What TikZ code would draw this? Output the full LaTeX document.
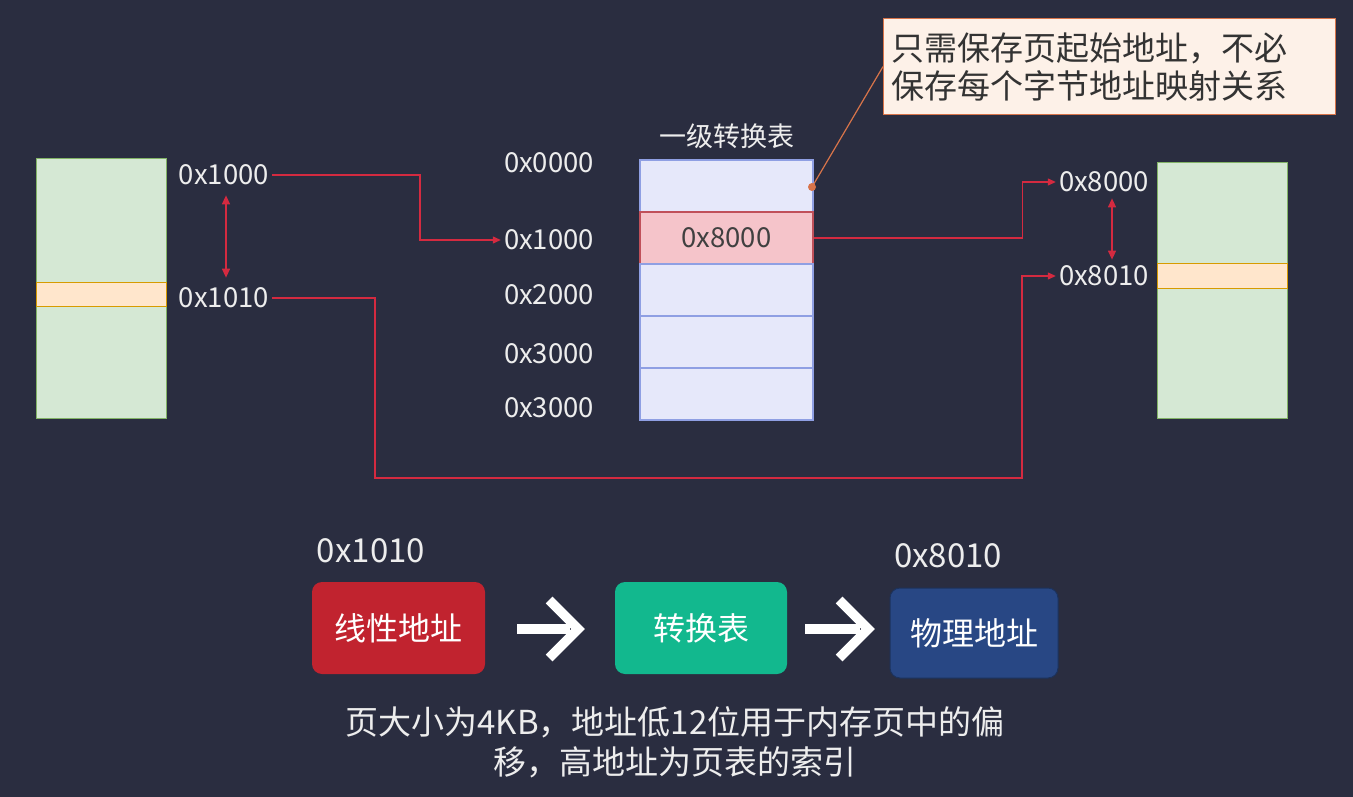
\documentclass[tikz,border=0pt]{standalone}
\usepackage{fontspec}
\setmainfont{Noto Sans CJK SC}
\usetikzlibrary{arrows.meta,calc}
\definecolor{bg}{HTML}{2A2D40}
\definecolor{redln}{HTML}{D42A40}
\definecolor{memfill}{HTML}{D5E8D4}
\definecolor{memdraw}{HTML}{82B366}
\definecolor{bandfill}{HTML}{FFE6CC}
\definecolor{banddraw}{HTML}{D79B00}
\definecolor{cellfill}{HTML}{E6E8FA}
\definecolor{celldraw}{HTML}{8F9FE3}
\definecolor{pinkfill}{HTML}{F5C4CA}
\definecolor{pinkdraw}{HTML}{C0505A}
\definecolor{notefill}{HTML}{FDF1E8}
\definecolor{notedraw}{HTML}{D8744A}
\definecolor{boxred}{HTML}{C1232F}
\definecolor{boxgreen}{HTML}{12B88E}
\definecolor{boxblue}{HTML}{284784}
\definecolor{txt}{HTML}{EDEDED}
\begin{document}
\begin{tikzpicture}[x=1pt,y=-1pt,
  addr/.style={text=txt,inner sep=3pt,font=\fontsize{27.5}{32}\selectfont},
  mem/.style={draw=memdraw,fill=memfill,line width=1.2pt,inner sep=0pt,anchor=north west,minimum width=130pt},
  band/.style={draw=banddraw,fill=bandfill,line width=1pt,inner sep=0pt,anchor=north west,minimum width=130pt},
  cell/.style={draw=celldraw,fill=cellfill,line width=1.5pt,minimum width=173pt,minimum height=52pt,inner sep=0pt},
  pinkcell/.style={cell,draw=pinkdraw,fill=pinkfill,text=black!75,font=\fontsize{27.5}{32}\selectfont},
  redline/.style={draw=redln,line width=1.3pt},
  tip/.style={-{Triangle[length=8pt,width=7pt]}},
  dbl/.style={{Triangle[length=9pt,width=8pt]}-{Triangle[length=9pt,width=8pt]}},
  flowbox/.style={rounded corners=10pt,text=white,minimum width=173pt,minimum height=92pt,font=\fontsize{32}{36}\selectfont},
  chev/.style={draw=white,line width=9.5pt,line cap=butt,line join=miter},
]
\fill[bg] (0,0) rectangle (1353,797);
\useasboundingbox (0,0) rectangle (1353,797);

% left memory
\node[mem,minimum height=260pt] (lmem) at (36,158) {};
\node[band,minimum height=24pt] (lband) at (36,282) {};
\node[addr] (l1000) at (224,175) {0x1000};
\node[addr] (l1010) at (224,298) {0x1010};
\draw[redline,dbl] ($(l1000.south)+(2,7)$) -- ($(l1010.north)+(2,-7)$);

% table
\node[text=txt,font=\fontsize{27}{30}\selectfont] (ttl) at (727,136) {一级转换表};
\node[cell] (r0) at (726.5,186) {};
\node[pinkcell] (r1) at (726.5,238) {0x8000};
\node[cell] (r2) at (726.5,290) {};
\node[cell] (r3) at (726.5,342) {};
\node[cell] (r4) at (726.5,394) {};
\node[addr] (t0000) at (549,163) {0x0000};
\node[addr] (t1000) at (549,240) {0x1000};
\node[addr] (t2000) at (549,295) {0x2000};
\node[addr] (t3000a) at (549,354) {0x3000};
\node[addr] (t3000b) at (549,408) {0x3000};

% right memory
\node[mem,minimum height=256pt] (rmem) at (1157,162) {};
\node[band,minimum height=25pt] (rband) at (1157,263) {};
\node[addr] (l8000) at (1104,182) {0x8000};
\node[addr] (l8010) at (1104,276) {0x8010};
\draw[redline,dbl] ($(l8000.south)+(8,3)$) -- ($(l8010.north)+(8,-3)$);

% connectors
\draw[redline,tip] (l1000.east) -| (420,240) -- (t1000.west);
\draw[redline,tip] (r1.east) -- ++(209,0) |- (l8000.west);
\draw[redline,tip] (l1010.east) -| (375,478) -- (1022,478) |- (l8010.west);

% callout
\node[draw=notedraw,fill=notefill,line width=1.2pt,anchor=north west,minimum width=452pt,minimum height=96pt,
      text width=436pt,align=left,inner xsep=8pt,text=black!80,
      font=\fontsize{33}{38}\selectfont] (note) at (883,18) {只需保存页起始地址，不必\\保存每个字节地址映射关系};
\node[circle,fill=notedraw,inner sep=0pt,minimum size=8pt] (pin) at (812,187) {};
\draw[notedraw,line width=1.2pt] (pin.center) -- (note.west);

% bottom flow
\node[flowbox,fill=boxred] (b1) at (398.5,628) {线性地址};
\node[flowbox,fill=boxgreen,minimum width=172pt] (b2) at (701,628) {转换表};
\node[flowbox,fill=boxblue,draw=boxblue!70!black,line width=1pt,minimum width=168pt,minimum height=90pt] (b3) at (974,633) {物理地址};
\node[text=txt,font=\fontsize{33}{36}\selectfont] (a1) at (371,551) {0x1010};
\node[text=txt,font=\fontsize{33}{36}\selectfont] (a2) at (948,556) {0x8010};
\draw[chev] ($(b1.east)+(32,1)$) -- ($(b1.east)+(85,1)$);
\draw[chev] ($(b1.east)+(64,-28)$) -- ($(b1.east)+(93,1)$) -- ($(b1.east)+(64,30)$);
\draw[chev] ($(b2.east)+(18,1)$) -- ($(b2.east)+(73,1)$);
\draw[chev] ($(b2.east)+(52,-28)$) -- ($(b2.east)+(81,1)$) -- ($(b2.east)+(52,30)$);

\node[text=txt,align=center,font=\fontsize{33}{40}\selectfont] (cap) at (675,742) {页大小为4KB，地址低12位用于内存页中的偏\\移，高地址为页表的索引};
\end{tikzpicture}
\end{document}
